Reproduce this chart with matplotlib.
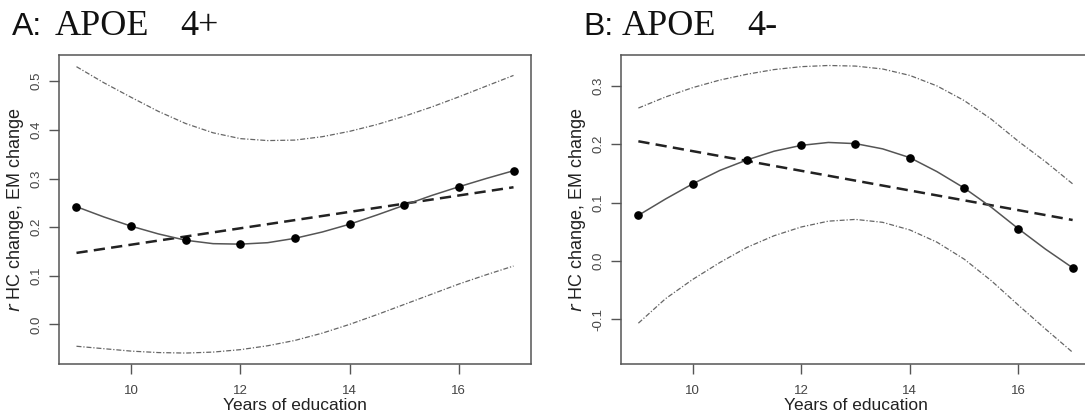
import matplotlib
matplotlib.use("Agg")
import matplotlib.pyplot as plt

# ---- data ----
years = [9, 10, 11, 12, 13, 14, 15, 16, 17]
half_years = [9, 9.5, 10, 10.5, 11, 11.5, 12, 12.5, 13, 13.5, 14, 14.5, 15, 15.5, 16, 16.5, 17]

# Panel A: APOE e4+
a_points = [0.242, 0.202, 0.173, 0.165, 0.177, 0.206, 0.245, 0.283, 0.316]
a_fit = [0.242, 0.221, 0.202, 0.186, 0.173, 0.166, 0.165, 0.168, 0.177, 0.190,
         0.206, 0.225, 0.245, 0.265, 0.283, 0.300, 0.316]
a_linear = [0.147, 0.282]
a_upper = [0.530, 0.497, 0.467, 0.438, 0.413, 0.394, 0.382, 0.378, 0.379, 0.386,
           0.397, 0.411, 0.428, 0.447, 0.468, 0.490, 0.512]
a_lower = [-0.045, -0.050, -0.055, -0.058, -0.059, -0.057, -0.052, -0.044, -0.033, -0.018,
           0.000, 0.020, 0.041, 0.062, 0.083, 0.102, 0.120]

# Panel B: APOE e4-
b_points = [0.078, 0.132, 0.173, 0.198, 0.201, 0.177, 0.125, 0.055, -0.012]
b_fit = [0.078, 0.106, 0.132, 0.155, 0.173, 0.188, 0.198, 0.203, 0.201, 0.192,
         0.177, 0.153, 0.125, 0.092, 0.055, 0.020, -0.012]
b_linear = [0.205, 0.070]
b_upper = [0.262, 0.281, 0.297, 0.310, 0.320, 0.328, 0.333, 0.335, 0.334, 0.329,
           0.318, 0.300, 0.275, 0.243, 0.205, 0.170, 0.132]
b_lower = [-0.107, -0.065, -0.032, -0.003, 0.023, 0.043, 0.058, 0.068, 0.071, 0.066,
           0.053, 0.032, 0.003, -0.034, -0.076, -0.117, -0.157]

x_ticks = [10, 12, 14, 16]
a_yticks = [0.0, 0.1, 0.2, 0.3, 0.4, 0.5]
b_yticks = [-0.1, 0.0, 0.1, 0.2, 0.3]

plt.rcParams['font.family'] = ['Liberation Sans', 'DejaVu Sans']

W, H = 1085, 418
fig = plt.figure(figsize=(W / 100, H / 100), dpi=100)


def px_axes(l, t, r, b):
    return fig.add_axes([l / W, 1 - b / H, (r - l) / W, (b - t) / H])


def draw_panel(ax, points, fit, linear, upper, lower, yticks, ylim):
    ax.plot(half_years, upper, color='#666666', lw=0.9, linestyle=(0, (4, 1.5, 1, 1.5)))
    ax.plot(half_years, lower, color='#666666', lw=0.9, linestyle=(0, (4, 1.5, 1, 1.5)))
    ax.plot([years[0], years[-1]], linear, color='#222222', lw=1.8, linestyle=(0, (4.5, 2.5)))
    ax.plot(half_years, fit, color='#555555', lw=1.1)
    ax.plot(years, points, 'o', color='black', markersize=5.2)
    ax.set_xlim(8.68, 17.32)
    ax.set_ylim(*ylim)
    ax.set_xticks(x_ticks)
    ax.set_yticks(yticks)
    ax.set_yticklabels([f"{v:.1f}" for v in yticks], rotation=90, va='center')
    for s in ax.spines.values():
        s.set_color('#555555')
        s.set_linewidth(1.1)
    ax.tick_params(axis='both', colors='#555555', labelcolor='#444444', labelsize=9.5,
                   length=7, width=1.0, direction='out')
    ax.tick_params(axis='x', pad=8)
    ax.tick_params(axis='y', pad=5)
    ax.set_xlabel('Years of education', fontsize=12.5, color='#222222', labelpad=1)
    ax.set_ylabel('$\\it{r}$ HC change, EM change', fontsize=13, color='#222222', labelpad=3)


axA = px_axes(59, 55, 531, 364)
draw_panel(axA, a_points, a_fit, a_linear, a_upper, a_lower, a_yticks, (-0.0815, 0.554))

axB = px_axes(621, 55, 1090, 364)
draw_panel(axB, b_points, b_fit, b_linear, b_upper, b_lower, b_yticks, (-0.177, 0.353))

# titles
fig.text(12 / W, 1 - 35 / H, 'A:', fontsize=23, family='Liberation Sans', va='baseline', color='#111111')
fig.text(55 / W, 1 - 35 / H, 'APOE', fontsize=26, family='Liberation Serif', va='baseline', color='#111111')
fig.text(180 / W, 1 - 35 / H, '4+', fontsize=26, family='Liberation Serif', va='baseline', color='#111111')
fig.text(583 / W, 1 - 35 / H, 'B:', fontsize=23, family='Liberation Sans', va='baseline', color='#111111')
fig.text(622 / W, 1 - 35 / H, 'APOE', fontsize=26, family='Liberation Serif', va='baseline', color='#111111')
fig.text(747 / W, 1 - 35 / H, '4-', fontsize=26, family='Liberation Serif', va='baseline', color='#111111')

fig.savefig('out.png', dpi=100, facecolor='white')
